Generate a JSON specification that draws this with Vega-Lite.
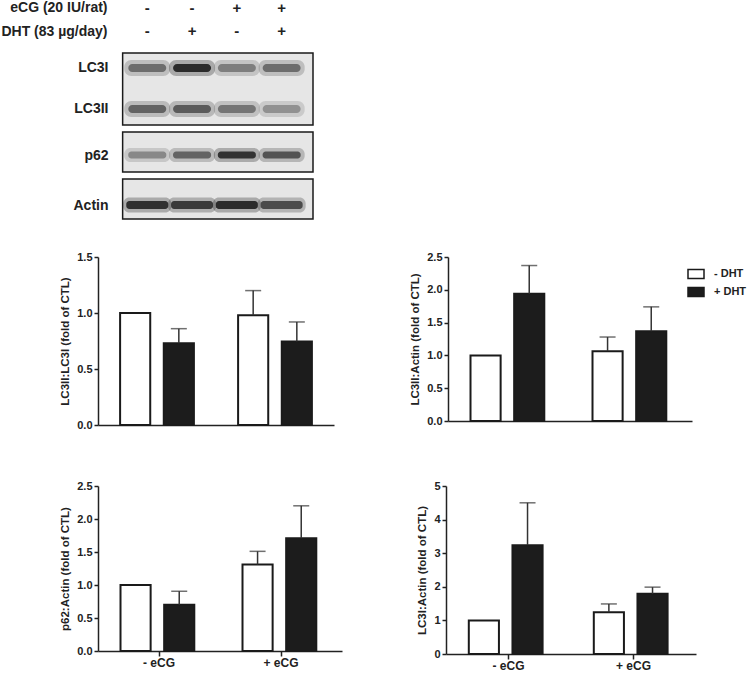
{
  "$schema": "https://vega.github.io/schema/vega-lite/v6.json",
  "padding": 0,
  "background": "white",
  "config": {
    "font": "Liberation Sans",
    "view": {"stroke": null},
    "axis": {"labelColor": "#222", "titleColor": "#222", "domainColor": "#222", "tickColor": "#222", "grid": false},
    "axisY": {"tickSize": 4, "tickWidth": 1.5, "domainWidth": 1.5, "labelFontSize": 11, "labelFontWeight": "bold", "labelPadding": 2, "titleFontSize": 11.5, "titleFontWeight": "bold", "titlePadding": 6, "labelOverlap": false},
    "axisX": {"domainWidth": 1.5, "tickWidth": 1.5, "tickSize": 5, "labelFontSize": 12, "labelFontWeight": "bold", "labelPadding": 1, "labelAngle": 0}
  },
  "datasets": {
    "bars": [
      {"panel": "LC3II:LC3I", "eCG": "- eCG", "DHT": "- DHT", "mean": 1.0, "upper": null},
      {"panel": "LC3II:LC3I", "eCG": "- eCG", "DHT": "+ DHT", "mean": 0.73, "upper": 0.86},
      {"panel": "LC3II:LC3I", "eCG": "+ eCG", "DHT": "- DHT", "mean": 0.98, "upper": 1.2},
      {"panel": "LC3II:LC3I", "eCG": "+ eCG", "DHT": "+ DHT", "mean": 0.745, "upper": 0.92},
      {"panel": "LC3II:Actin", "eCG": "- eCG", "DHT": "- DHT", "mean": 1.0, "upper": null},
      {"panel": "LC3II:Actin", "eCG": "- eCG", "DHT": "+ DHT", "mean": 1.94, "upper": 2.37},
      {"panel": "LC3II:Actin", "eCG": "+ eCG", "DHT": "- DHT", "mean": 1.065, "upper": 1.28},
      {"panel": "LC3II:Actin", "eCG": "+ eCG", "DHT": "+ DHT", "mean": 1.37, "upper": 1.74},
      {"panel": "p62:Actin", "eCG": "- eCG", "DHT": "- DHT", "mean": 1.0, "upper": null},
      {"panel": "p62:Actin", "eCG": "- eCG", "DHT": "+ DHT", "mean": 0.7, "upper": 0.905},
      {"panel": "p62:Actin", "eCG": "+ eCG", "DHT": "- DHT", "mean": 1.31, "upper": 1.51},
      {"panel": "p62:Actin", "eCG": "+ eCG", "DHT": "+ DHT", "mean": 1.71, "upper": 2.2},
      {"panel": "LC3I:Actin", "eCG": "- eCG", "DHT": "- DHT", "mean": 1.0, "upper": null},
      {"panel": "LC3I:Actin", "eCG": "- eCG", "DHT": "+ DHT", "mean": 3.24, "upper": 4.5},
      {"panel": "LC3I:Actin", "eCG": "+ eCG", "DHT": "- DHT", "mean": 1.24, "upper": 1.49},
      {"panel": "LC3I:Actin", "eCG": "+ eCG", "DHT": "+ DHT", "mean": 1.79, "upper": 1.99}
    ],
    "blot": [
      {"protein": "LC3I", "lane": 1, "intensity": 0.55},
      {"protein": "LC3I", "lane": 2, "intensity": 0.95},
      {"protein": "LC3I", "lane": 3, "intensity": 0.45},
      {"protein": "LC3I", "lane": 4, "intensity": 0.55},
      {"protein": "LC3II", "lane": 1, "intensity": 0.6},
      {"protein": "LC3II", "lane": 2, "intensity": 0.65},
      {"protein": "LC3II", "lane": 3, "intensity": 0.5},
      {"protein": "LC3II", "lane": 4, "intensity": 0.35},
      {"protein": "p62", "lane": 1, "intensity": 0.4},
      {"protein": "p62", "lane": 2, "intensity": 0.6},
      {"protein": "p62", "lane": 3, "intensity": 0.9},
      {"protein": "p62", "lane": 4, "intensity": 0.7},
      {"protein": "Actin", "lane": 1, "intensity": 0.92},
      {"protein": "Actin", "lane": 2, "intensity": 0.85},
      {"protein": "Actin", "lane": 3, "intensity": 0.95},
      {"protein": "Actin", "lane": 4, "intensity": 0.75}
    ],
    "header": [
      {"factor": "eCG (20 IU/rat)", "lane": 1, "sign": "-"},
      {"factor": "eCG (20 IU/rat)", "lane": 2, "sign": "-"},
      {"factor": "eCG (20 IU/rat)", "lane": 3, "sign": "+"},
      {"factor": "eCG (20 IU/rat)", "lane": 4, "sign": "+"},
      {"factor": "DHT (83 µg/day)", "lane": 1, "sign": "-"},
      {"factor": "DHT (83 µg/day)", "lane": 2, "sign": "+"},
      {"factor": "DHT (83 µg/day)", "lane": 3, "sign": "-"},
      {"factor": "DHT (83 µg/day)", "lane": 4, "sign": "+"}
    ]
  },
  "spacing": 31,
  "resolve": {"scale": {"fill": "independent"}, "legend": {"fill": "independent", "color": "independent"}},
  "vconcat": [
    {
      "spacing": 5,
      "vconcat": [
        {
          "width": 215, "height": 47,
          "data": {"name": "header"},
          "mark": {"type": "text", "fontSize": 15, "fontWeight": "bold", "color": "#222"},
          "encoding": {
            "x": {"field": "lane", "type": "quantitative", "scale": {"domain": [-0.1, 4.7], "nice": false, "zero": false}, "axis": null},
            "y": {"field": "factor", "type": "nominal", "sort": ["eCG (20 IU/rat)", "DHT (83 µg/day)"], "scale": {"type": "point", "padding": 0.5, "align": 0.34},
                  "axis": {"title": null, "domain": false, "ticks": false, "tickSize": 0, "labelPadding": -9, "labelFontSize": 14, "labelFontWeight": "bold", "labelColor": "#222"}},
            "text": {"field": "sign", "type": "nominal"}
          }
        },
        {
          "width": 215, "height": 72,
          "layer": [
            {
              "data": {"values": [{}]},
              "mark": {"type": "rect", "fill": "#e6e6e6", "stroke": "#1a1a1a", "strokeWidth": 1.5},
              "encoding": {"x": {"datum": 0.45, "type": "quantitative", "scale": {"domain": [-0.1, 4.7], "nice": false, "zero": false}, "axis": null}, "x2": {"datum": 4.7}}
            },
            {
              "data": {"name": "blot"},
              "transform": [{"filter": "datum.protein === 'LC3I' || datum.protein === 'LC3II'"}],
              "mark": {"type": "tick", "orient": "horizontal", "size": 46, "thickness": 16, "opacity": 0.3, "cornerRadius": 7},
              "encoding": {
                "x": {"field": "lane", "type": "quantitative", "scale": {"domain": [-0.1, 4.7], "nice": false, "zero": false}, "axis": null},
                "y": {"field": "protein", "type": "nominal", "sort": ["LC3I", "LC3II"], "scale": {"type": "point", "padding": 0.378, "align": 0.48},
                      "axis": {"title": null, "domain": false, "ticks": false, "tickSize": 0, "labelPadding": -10, "labelFontSize": 14, "labelFontWeight": "bold", "labelColor": "#222"}},
                "color": {"field": "intensity", "type": "quantitative", "scale": {"domain": [0, 1], "range": ["#d6d6d6", "#151515"]}, "legend": null}
              }
            },
            {
              "data": {"name": "blot"},
              "transform": [{"filter": "datum.protein === 'LC3I' || datum.protein === 'LC3II'"}],
              "mark": {"type": "tick", "orient": "horizontal", "size": 38, "thickness": 8, "opacity": 0.9, "cornerRadius": 4},
              "encoding": {
                "x": {"field": "lane", "type": "quantitative", "scale": {"domain": [-0.1, 4.7], "nice": false, "zero": false}, "axis": null},
                "y": {"field": "protein", "type": "nominal", "sort": ["LC3I", "LC3II"]},
                "color": {"field": "intensity", "type": "quantitative", "legend": null}
              }
            }
          ]
        },
        {
          "width": 215, "height": 40,
          "layer": [
            {
              "data": {"values": [{}]},
              "mark": {"type": "rect", "fill": "#e6e6e6", "stroke": "#1a1a1a", "strokeWidth": 1.5},
              "encoding": {"x": {"datum": 0.45, "type": "quantitative", "scale": {"domain": [-0.1, 4.7], "nice": false, "zero": false}, "axis": null}, "x2": {"datum": 4.7}}
            },
            {
              "data": {"name": "blot"},
              "transform": [{"filter": "datum.protein === 'p62'"}],
              "mark": {"type": "tick", "orient": "horizontal", "size": 46, "thickness": 14, "opacity": 0.3, "cornerRadius": 6},
              "encoding": {
                "x": {"field": "lane", "type": "quantitative", "scale": {"domain": [-0.1, 4.7], "nice": false, "zero": false}, "axis": null},
                "y": {"field": "protein", "type": "nominal", "scale": {"type": "point", "padding": 0.5, "align": 0.575},
                      "axis": {"title": null, "domain": false, "ticks": false, "tickSize": 0, "labelPadding": -10, "labelFontSize": 14, "labelFontWeight": "bold", "labelColor": "#222"}},
                "color": {"field": "intensity", "type": "quantitative", "scale": {"domain": [0, 1], "range": ["#d6d6d6", "#151515"]}, "legend": null}
              }
            },
            {
              "data": {"name": "blot"},
              "transform": [{"filter": "datum.protein === 'p62'"}],
              "mark": {"type": "tick", "orient": "horizontal", "size": 38, "thickness": 7, "opacity": 0.9, "cornerRadius": 3},
              "encoding": {
                "x": {"field": "lane", "type": "quantitative", "scale": {"domain": [-0.1, 4.7], "nice": false, "zero": false}, "axis": null},
                "y": {"field": "protein", "type": "nominal"},
                "color": {"field": "intensity", "type": "quantitative", "legend": null}
              }
            }
          ]
        },
        {
          "width": 215, "height": 40,
          "layer": [
            {
              "data": {"values": [{}]},
              "mark": {"type": "rect", "fill": "#e6e6e6", "stroke": "#1a1a1a", "strokeWidth": 1.5},
              "encoding": {"x": {"datum": 0.45, "type": "quantitative", "scale": {"domain": [-0.1, 4.7], "nice": false, "zero": false}, "axis": null}, "x2": {"datum": 4.7}}
            },
            {
              "data": {"name": "blot"},
              "transform": [{"filter": "datum.protein === 'Actin'"}],
              "mark": {"type": "tick", "orient": "horizontal", "size": 48, "thickness": 15, "opacity": 0.3, "cornerRadius": 6},
              "encoding": {
                "x": {"field": "lane", "type": "quantitative", "scale": {"domain": [-0.1, 4.7], "nice": false, "zero": false}, "axis": null},
                "y": {"field": "protein", "type": "nominal", "scale": {"type": "point", "padding": 0.5, "align": 0.65},
                      "axis": {"title": null, "domain": false, "ticks": false, "tickSize": 0, "labelPadding": -10, "labelFontSize": 14, "labelFontWeight": "bold", "labelColor": "#222"}},
                "color": {"field": "intensity", "type": "quantitative", "scale": {"domain": [0, 1], "range": ["#d6d6d6", "#151515"]}, "legend": null}
              }
            },
            {
              "data": {"name": "blot"},
              "transform": [{"filter": "datum.protein === 'Actin'"}],
              "mark": {"type": "tick", "orient": "horizontal", "size": 42, "thickness": 8, "opacity": 0.9, "cornerRadius": 3},
              "encoding": {
                "x": {"field": "lane", "type": "quantitative", "scale": {"domain": [-0.1, 4.7], "nice": false, "zero": false}, "axis": null},
                "y": {"field": "protein", "type": "nominal"},
                "color": {"field": "intensity", "type": "quantitative", "legend": null}
              }
            }
          ]
        }
      ]
    },
    {
      "spacing": 50,
      "resolve": {"scale": {"fill": "independent"}, "legend": {"fill": "independent"}},
      "vconcat": [
        {
          "spacing": 75,
          "resolve": {"scale": {"fill": "independent"}, "legend": {"fill": "independent"}},
          "hconcat": [
            {
              "width": 236, "height": 168,
              "data": {"name": "bars"},
              "transform": [{"filter": "datum.panel === 'LC3II:LC3I'"}],
              "encoding": {
                "x": {"field": "eCG", "type": "nominal", "sort": ["- eCG", "+ eCG"], "scale": {"paddingInner": 0.2, "paddingOuter": 0.1}, "axis": {"title": null, "labels": false, "ticks": false}},
                "xOffset": {"field": "DHT", "type": "nominal", "sort": ["- DHT", "+ DHT"], "scale": {"paddingInner": 0.31, "paddingOuter": 0.236}}
              },
              "layer": [
                {
                  "mark": {"type": "bar", "stroke": "#1a1a1a", "strokeWidth": 2},
                  "encoding": {
                    "y": {"field": "mean", "type": "quantitative", "title": "LC3II:LC3I (fold of CTL)", "scale": {"domain": [0, 1.5], "nice": false}, "axis": {"values": [0, 0.5, 1, 1.5], "format": ".1f"}},
                    "fill": {"field": "DHT", "type": "nominal", "sort": ["- DHT", "+ DHT"], "scale": {"domain": ["- DHT", "+ DHT"], "range": ["#ffffff", "#1c1c1c"]}, "legend": null}
                  }
                },
                {
                  "transform": [{"filter": "datum.upper != null"}],
                  "mark": {"type": "rule", "color": "#333", "strokeWidth": 1.5},
                  "encoding": {"y": {"field": "mean", "type": "quantitative", "title": "LC3II:LC3I (fold of CTL)", "axis": {"values": [0, 0.5, 1, 1.5], "format": ".1f"}}, "y2": {"field": "upper"}}
                },
                {
                  "transform": [{"filter": "datum.upper != null"}],
                  "mark": {"type": "tick", "orient": "horizontal", "size": 16, "thickness": 1.5, "color": "#333"},
                  "encoding": {"y": {"field": "upper", "type": "quantitative", "title": "LC3II:LC3I (fold of CTL)", "axis": {"values": [0, 0.5, 1, 1.5], "format": ".1f"}}}
                }
              ]
            },
            {
              "width": 244, "height": 164,
              "data": {"name": "bars"},
              "transform": [{"filter": "datum.panel === 'LC3II:Actin'"}],
              "encoding": {
                "x": {"field": "eCG", "type": "nominal", "sort": ["- eCG", "+ eCG"], "scale": {"paddingInner": 0.2, "paddingOuter": 0.1}, "axis": {"title": null, "labels": false, "ticks": false}},
                "xOffset": {"field": "DHT", "type": "nominal", "sort": ["- DHT", "+ DHT"], "scale": {"paddingInner": 0.31, "paddingOuter": 0.236}}
              },
              "layer": [
                {
                  "mark": {"type": "bar", "stroke": "#1a1a1a", "strokeWidth": 2},
                  "encoding": {
                    "y": {"field": "mean", "type": "quantitative", "title": "LC3II:Actin (fold of CTL)", "scale": {"domain": [0, 2.5], "nice": false}, "axis": {"values": [0, 0.5, 1, 1.5, 2, 2.5], "format": ".1f"}},
                    "fill": {"field": "DHT", "type": "nominal", "sort": ["- DHT", "+ DHT"], "scale": {"domain": ["- DHT", "+ DHT"], "range": ["#ffffff", "#1c1c1c"]},
                             "legend": {"orient": "none", "legendX": 239, "legendY": 8, "title": null, "padding": 0, "symbolType": "M-1,-0.56H1V0.56H-1Z", "symbolSize": 256, "symbolStrokeColor": "#1a1a1a", "symbolStrokeWidth": 1.5, "labelFontSize": 11, "labelFontWeight": "bold", "labelColor": "#222", "labelOffset": 9, "rowPadding": 1}}
                  }
                },
                {
                  "transform": [{"filter": "datum.upper != null"}],
                  "mark": {"type": "rule", "color": "#333", "strokeWidth": 1.5},
                  "encoding": {"y": {"field": "mean", "type": "quantitative", "title": "LC3II:Actin (fold of CTL)", "axis": {"values": [0, 0.5, 1, 1.5, 2, 2.5], "format": ".1f"}}, "y2": {"field": "upper"}}
                },
                {
                  "transform": [{"filter": "datum.upper != null"}],
                  "mark": {"type": "tick", "orient": "horizontal", "size": 16, "thickness": 1.5, "color": "#333"},
                  "encoding": {"y": {"field": "upper", "type": "quantitative", "title": "LC3II:Actin (fold of CTL)", "axis": {"values": [0, 0.5, 1, 1.5, 2, 2.5], "format": ".1f"}}}
                }
              ]
            }
          ]
        },
        {
          "spacing": 74,
          "resolve": {"scale": {"fill": "independent"}, "legend": {"fill": "independent"}},
          "hconcat": [
            {
              "width": 244, "height": 165,
              "data": {"name": "bars"},
              "transform": [{"filter": "datum.panel === 'p62:Actin'"}],
              "encoding": {
                "x": {"field": "eCG", "type": "nominal", "sort": ["- eCG", "+ eCG"], "scale": {"paddingInner": 0.2, "paddingOuter": 0.1}, "axis": {"title": null}},
                "xOffset": {"field": "DHT", "type": "nominal", "sort": ["- DHT", "+ DHT"], "scale": {"paddingInner": 0.31, "paddingOuter": 0.236}}
              },
              "layer": [
                {
                  "mark": {"type": "bar", "stroke": "#1a1a1a", "strokeWidth": 2},
                  "encoding": {
                    "y": {"field": "mean", "type": "quantitative", "title": "p62:Actin (fold of CTL)", "scale": {"domain": [0, 2.5], "nice": false}, "axis": {"values": [0, 0.5, 1, 1.5, 2, 2.5], "format": ".1f"}},
                    "fill": {"field": "DHT", "type": "nominal", "sort": ["- DHT", "+ DHT"], "scale": {"domain": ["- DHT", "+ DHT"], "range": ["#ffffff", "#1c1c1c"]}, "legend": null}
                  }
                },
                {
                  "transform": [{"filter": "datum.upper != null"}],
                  "mark": {"type": "rule", "color": "#333", "strokeWidth": 1.5},
                  "encoding": {"y": {"field": "mean", "type": "quantitative", "title": "p62:Actin (fold of CTL)", "axis": {"values": [0, 0.5, 1, 1.5, 2, 2.5], "format": ".1f"}}, "y2": {"field": "upper"}}
                },
                {
                  "transform": [{"filter": "datum.upper != null"}],
                  "mark": {"type": "tick", "orient": "horizontal", "size": 16, "thickness": 1.5, "color": "#333"},
                  "encoding": {"y": {"field": "upper", "type": "quantitative", "title": "p62:Actin (fold of CTL)", "axis": {"values": [0, 0.5, 1, 1.5, 2, 2.5], "format": ".1f"}}}
                }
              ]
            },
            {
              "width": 250, "height": 168,
              "data": {"name": "bars"},
              "transform": [{"filter": "datum.panel === 'LC3I:Actin'"}],
              "encoding": {
                "x": {"field": "eCG", "type": "nominal", "sort": ["- eCG", "+ eCG"], "scale": {"paddingInner": 0.2, "paddingOuter": 0.1}, "axis": {"title": null}},
                "xOffset": {"field": "DHT", "type": "nominal", "sort": ["- DHT", "+ DHT"], "scale": {"paddingInner": 0.31, "paddingOuter": 0.236}}
              },
              "layer": [
                {
                  "mark": {"type": "bar", "stroke": "#1a1a1a", "strokeWidth": 2},
                  "encoding": {
                    "y": {"field": "mean", "type": "quantitative", "title": "LC3I:Actin (fold of CTL)", "scale": {"domain": [0, 5], "nice": false}, "axis": {"values": [0, 1, 2, 3, 4, 5], "format": "d"}},
                    "fill": {"field": "DHT", "type": "nominal", "sort": ["- DHT", "+ DHT"], "scale": {"domain": ["- DHT", "+ DHT"], "range": ["#ffffff", "#1c1c1c"]}, "legend": null}
                  }
                },
                {
                  "transform": [{"filter": "datum.upper != null"}],
                  "mark": {"type": "rule", "color": "#333", "strokeWidth": 1.5},
                  "encoding": {"y": {"field": "mean", "type": "quantitative", "title": "LC3I:Actin (fold of CTL)", "axis": {"values": [0, 1, 2, 3, 4, 5], "format": "d"}}, "y2": {"field": "upper"}}
                },
                {
                  "transform": [{"filter": "datum.upper != null"}],
                  "mark": {"type": "tick", "orient": "horizontal", "size": 16, "thickness": 1.5, "color": "#333"},
                  "encoding": {"y": {"field": "upper", "type": "quantitative", "title": "LC3I:Actin (fold of CTL)", "axis": {"values": [0, 1, 2, 3, 4, 5], "format": "d"}}}
                }
              ]
            }
          ]
        }
      ]
    }
  ]
}
